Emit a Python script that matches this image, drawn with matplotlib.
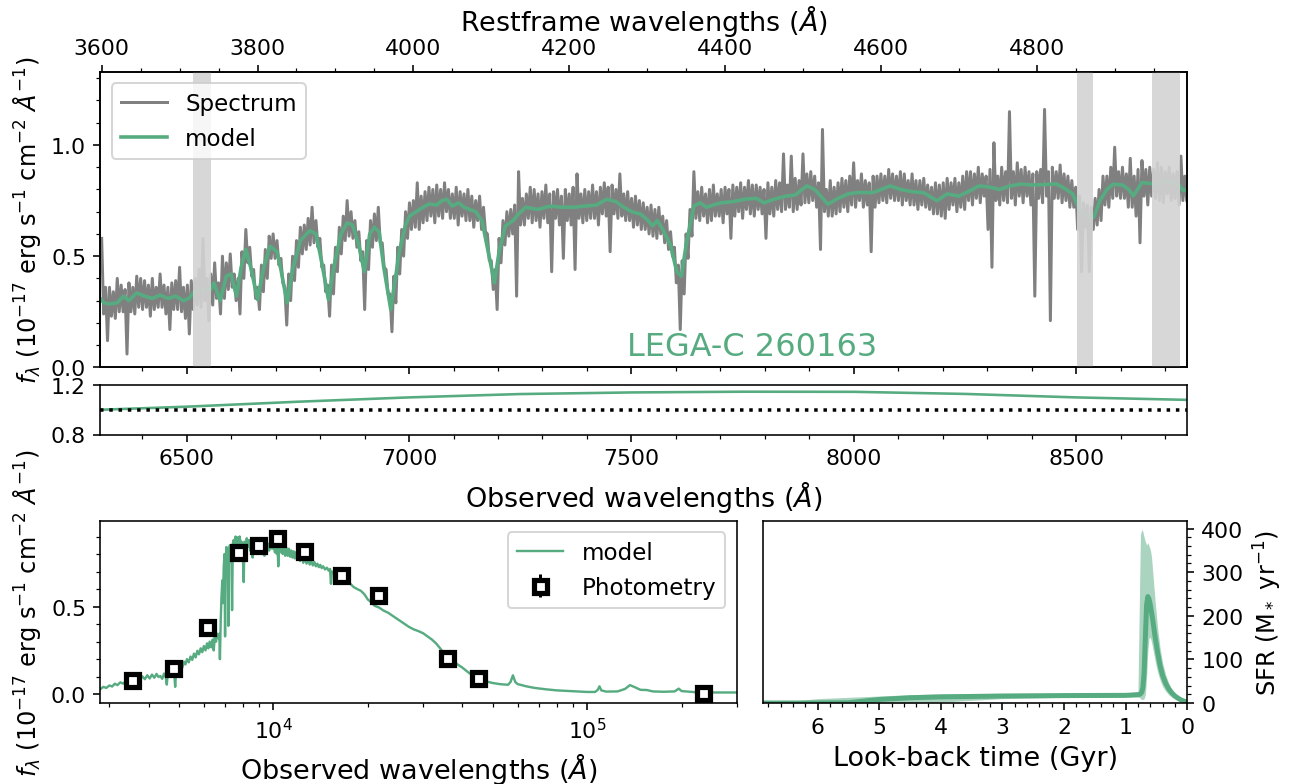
import numpy as np
import matplotlib
matplotlib.use('Agg')
import matplotlib.pyplot as plt
from matplotlib.ticker import AutoMinorLocator, MultipleLocator

z = 0.7524
green = '#57ab80'

# spectrum (restframe), read off the figure as the local highs and lows of the
# noisy band: highs at 3600 + 5k A, lows at 3602.5 + 5k A
spec_hi = [
    0.58, 0.36, 0.36, 0.34, 0.40, 0.37, 0.35, 0.38, 0.36, 0.41,
    0.40, 0.39, 0.37, 0.40, 0.36, 0.42, 0.37, 0.36, 0.38, 0.39,
    0.45, 0.36, 0.37, 0.39, 0.40, 0.44, 0.58, 0.40, 0.42, 0.47,
    0.38, 0.50, 0.47, 0.51, 0.42, 0.40, 0.52, 0.62, 0.54, 0.44,
    0.36, 0.46, 0.53, 0.59, 0.60, 0.57, 0.49, 0.36, 0.42, 0.50,
    0.57, 0.63, 0.64, 0.67, 0.72, 0.66, 0.58, 0.46, 0.37, 0.46,
    0.54, 0.63, 0.68, 0.75, 0.70, 0.66, 0.61, 0.52, 0.57, 0.66,
    0.69, 0.72, 0.56, 0.44, 0.33, 0.41, 0.54, 0.62, 0.70, 0.74,
    0.75, 0.83, 0.77, 0.79, 0.81, 0.80, 0.82, 0.80, 0.83, 0.80,
    0.78, 0.81, 0.79, 0.78, 0.80, 0.77, 0.75, 0.77, 0.72, 0.60,
    0.48, 0.44, 0.58, 0.66, 0.70, 0.71, 0.73, 0.88, 0.76, 0.78,
    0.81, 0.80, 0.78, 0.79, 0.82, 0.78, 0.79, 0.80, 0.77, 0.80,
    0.78, 0.81, 0.87, 0.78, 0.80, 0.79, 0.82, 0.79, 0.81, 0.83,
    0.81, 0.82, 0.80, 0.87, 0.78, 0.79, 0.76, 0.77, 0.75, 0.74,
    0.72, 0.73, 0.71, 0.72, 0.68, 0.66, 0.61, 0.54, 0.46, 0.48,
    0.60, 0.71, 0.88, 0.79, 0.81, 0.78, 0.80, 0.82, 0.78, 0.80,
    0.81, 0.80, 0.82, 0.81, 0.83, 0.81, 0.84, 0.82, 0.82, 0.81,
    0.80, 0.83, 0.81, 0.84, 0.83, 0.96, 0.82, 0.95, 0.85, 0.84,
    0.96, 0.87, 0.88, 0.86, 0.83, 1.07, 0.80, 0.84, 0.81, 0.83,
    0.85, 0.84, 0.86, 0.92, 0.84, 0.87, 0.84, 0.83, 0.86, 0.86,
    0.87, 0.86, 0.89, 0.87, 0.86, 0.88, 0.87, 0.84, 0.87, 0.84,
    0.84, 0.85, 0.82, 0.81, 0.83, 0.82, 0.83, 0.85, 0.83, 0.85,
    0.83, 0.86, 0.88, 0.88, 0.87, 0.90, 0.87, 0.86, 0.89, 1.01,
    0.86, 0.90, 0.88, 1.15, 0.88, 0.92, 0.89, 0.90, 0.88, 0.87,
    0.88, 0.89, 1.16, 0.88, 0.90, 0.88, 0.91, 0.87, 0.86, 0.84,
    0.81, 0.77, 0.74, 0.73, 0.72, 0.76, 0.80, 0.86, 0.86, 0.90,
    0.99, 0.88, 0.90, 0.87, 0.94, 0.86, 0.89, 0.93, 0.89, 0.90,
    0.89, 0.92, 0.90, 0.88, 0.90, 0.87, 0.88, 0.95, 0.86,
]
spec_lo = [
    0.24, 0.12, 0.23, 0.22, 0.25, 0.25, 0.06, 0.25, 0.24, 0.27,
    0.26, 0.27, 0.23, 0.26, 0.27, 0.27, 0.24, 0.17, 0.26, 0.26,
    0.25, 0.22, 0.15, 0.26, 0.28, 0.27, 0.30, 0.21, 0.28, 0.31,
    0.24, 0.31, 0.35, 0.36, 0.30, 0.24, 0.40, 0.47, 0.41, 0.31,
    0.26, 0.34, 0.40, 0.49, 0.49, 0.46, 0.38, 0.19, 0.30, 0.39,
    0.45, 0.51, 0.53, 0.55, 0.56, 0.54, 0.45, 0.34, 0.23, 0.33,
    0.43, 0.51, 0.57, 0.59, 0.58, 0.54, 0.48, 0.26, 0.44, 0.54,
    0.57, 0.56, 0.45, 0.33, 0.16, 0.29, 0.42, 0.50, 0.58, 0.62,
    0.63, 0.62, 0.65, 0.66, 0.68, 0.65, 0.68, 0.67, 0.70, 0.67,
    0.67, 0.64, 0.68, 0.66, 0.66, 0.63, 0.66, 0.62, 0.61, 0.48,
    0.35, 0.26, 0.47, 0.55, 0.59, 0.60, 0.32, 0.64, 0.64, 0.67,
    0.65, 0.66, 0.63, 0.67, 0.65, 0.43, 0.67, 0.64, 0.49, 0.66,
    0.64, 0.44, 0.67, 0.65, 0.66, 0.67, 0.67, 0.64, 0.69, 0.68,
    0.52, 0.69, 0.67, 0.68, 0.66, 0.66, 0.63, 0.64, 0.62, 0.62,
    0.60, 0.59, 0.58, 0.60, 0.56, 0.53, 0.50, 0.38, 0.17, 0.33,
    0.49, 0.59, 0.67, 0.66, 0.68, 0.65, 0.66, 0.68, 0.68, 0.65,
    0.69, 0.58, 0.68, 0.70, 0.67, 0.71, 0.69, 0.68, 0.71, 0.69,
    0.58, 0.69, 0.68, 0.71, 0.70, 0.71, 0.72, 0.70, 0.71, 0.73,
    0.74, 0.74, 0.75, 0.72, 0.53, 0.70, 0.68, 0.68, 0.69, 0.70,
    0.72, 0.70, 0.73, 0.72, 0.75, 0.72, 0.73, 0.52, 0.72, 0.74,
    0.75, 0.74, 0.76, 0.75, 0.75, 0.73, 0.75, 0.73, 0.73, 0.71,
    0.73, 0.72, 0.71, 0.69, 0.69, 0.68, 0.67, 0.71, 0.73, 0.70,
    0.72, 0.71, 0.75, 0.73, 0.76, 0.74, 0.77, 0.62, 0.45, 0.75,
    0.73, 0.75, 0.74, 0.76, 0.73, 0.77, 0.74, 0.77, 0.73, 0.32,
    0.76, 0.74, 0.77, 0.21, 0.76, 0.76, 0.74, 0.75, 0.72, 0.72,
    0.62, 0.43, 0.63, 0.43, 0.62, 0.64, 0.66, 0.73, 0.72, 0.76,
    0.77, 0.76, 0.76, 0.72, 0.72, 0.68, 0.56, 0.77, 0.73, 0.77,
    0.76, 0.75, 0.74, 0.78, 0.75, 0.76, 0.73, 0.75, 0.75,
]

# best-fit model on the spectrum (restframe)
model_rest = [
    3598, 3603, 3610, 3620, 3628, 3635, 3645, 3655, 3665, 3675,
    3685, 3695, 3705, 3712, 3718, 3730, 3740, 3744, 3752, 3760,
    3766, 3773, 3779, 3785, 3792, 3800, 3808, 3816, 3825, 3830,
    3838, 3845, 3855, 3867, 3875, 3882, 3891, 3899, 3907, 3915,
    3922, 3930, 3937, 3944, 3950, 3956, 3962, 3971, 3977, 3982,
    3990, 3995, 4008, 4020, 4030, 4037, 4043, 4050, 4058, 4065,
    4072, 4080, 4088, 4096, 4104, 4110, 4118, 4128, 4135, 4144,
    4160, 4175, 4190, 4205, 4220, 4235, 4248, 4260, 4270, 4280,
    4291, 4300, 4307, 4313, 4320, 4330, 4338, 4344, 4350, 4360,
    4368, 4376, 4385, 4395, 4410, 4425, 4440, 4450, 4462, 4478,
    4490, 4505, 4515, 4532, 4545, 4558, 4570, 4590, 4612, 4625,
    4640, 4655, 4672, 4685, 4700, 4712, 4726, 4740, 4752, 4765,
    4779, 4795, 4810, 4825, 4838, 4846, 4855, 4865, 4873, 4881,
    4890, 4898, 4910, 4918, 4924, 4935, 4950, 4965, 4980, 4988,
    4993,
]
model_flux = [
    0.31, 0.29, 0.285, 0.29, 0.32, 0.30, 0.335, 0.32, 0.31, 0.325,
    0.31, 0.32, 0.30, 0.31, 0.337, 0.35, 0.35, 0.38, 0.30, 0.41,
    0.42, 0.32, 0.45, 0.53, 0.44, 0.305, 0.45, 0.545, 0.52, 0.44,
    0.29, 0.44, 0.57, 0.615, 0.60, 0.48, 0.305, 0.47, 0.60, 0.65,
    0.64, 0.55, 0.43, 0.60, 0.63, 0.61, 0.45, 0.26, 0.40, 0.52,
    0.64, 0.68, 0.71, 0.735, 0.73, 0.75, 0.756, 0.725, 0.74, 0.72,
    0.71, 0.70, 0.66, 0.52, 0.38, 0.52, 0.636, 0.66, 0.69, 0.72,
    0.71, 0.725, 0.72, 0.72, 0.725, 0.73, 0.756, 0.745, 0.72, 0.70,
    0.69, 0.665, 0.636, 0.66, 0.62, 0.55, 0.43, 0.41, 0.55, 0.726,
    0.74, 0.72, 0.73, 0.74, 0.745, 0.756, 0.76, 0.74, 0.755, 0.77,
    0.775, 0.816, 0.80, 0.734, 0.76, 0.78, 0.786, 0.786, 0.816, 0.80,
    0.79, 0.785, 0.749, 0.78, 0.77, 0.79, 0.816, 0.81, 0.80, 0.815,
    0.824, 0.82, 0.822, 0.825, 0.80, 0.78, 0.711, 0.68, 0.674, 0.749,
    0.80, 0.824, 0.82, 0.80, 0.771, 0.831, 0.825, 0.835, 0.83, 0.794,
    0.80,
]

# masked regions (observed frame)
mask_lo = [6515, 8503, 8671]
mask_hi = [6554, 8538, 8734]

# model / spectrum calibration ratio (observed frame)
ratio_obs = [6305, 6500, 6750, 7000, 7250, 7500, 7750, 8000, 8250, 8500, 8750]
ratio_val = [1.0, 1.025, 1.065, 1.10, 1.127, 1.14, 1.146, 1.145, 1.128, 1.10, 1.08]

# full SED model (observed frame)
sed_wave = [
    2800, 2870, 2930, 3000, 3060, 3120, 3180, 3250, 3320, 3400,
    3470, 3540, 3610, 3680, 3750, 3820, 3890, 3960, 4030, 4100,
    4170, 4240, 4300, 4360, 4420, 4480, 4540, 4570, 4600, 4660,
    4720, 4780, 4830, 4860, 4890, 4950, 5000, 5060, 5120, 5180,
    5240, 5300, 5370, 5440, 5510, 5580, 5650, 5720, 5790, 5860,
    5930, 6000, 6070, 6140, 6200, 6260, 6330, 6400, 6450, 6500,
    6560, 6620, 6680, 6720, 6750, 6790, 6830, 6870, 6900, 6940,
    6980, 7010, 7040, 7080, 7110, 7150, 7180, 7210, 7260, 7300,
    7340, 7380, 7420, 7470, 7520, 7570, 7620, 7680, 7740, 7800,
    7860, 7920, 7980, 8040, 8080, 8150, 8220, 8290, 8360, 8430,
    8500, 8580, 8650, 8720, 8800, 8880, 8960, 9040, 9120, 9200,
    9280, 9360, 9440, 9520, 9600, 9700, 9800, 9900, 10000, 10100,
    10200, 10250, 10300, 10360, 10420, 10500, 10600, 10700, 10800, 10900,
    11000, 11100, 11200, 11300, 11400, 11500, 11600, 11700, 11800, 11900,
    12000, 12150, 12300, 12450, 12600, 12750, 12900, 13050, 13200, 13350,
    13500, 13650, 13800, 13950, 14100, 14250, 14400, 14600, 14800, 15000,
    15150, 15250, 15350, 15600, 15900, 16200, 16500, 16800, 17200, 17600,
    18000, 18500, 19000, 19500, 20000, 20500, 21000, 21700, 22400, 23200,
    24000, 25000, 26000, 27000, 28000, 29000, 30000, 31000, 32000, 33000,
    34000, 35000, 36000, 37000, 38500, 40000, 42000, 44000, 46000, 48000,
    50000, 53000, 56000, 57000, 58000, 59000, 60000, 64000, 68000, 74000,
    80000, 90000, 100000, 106000, 108000, 109500, 111000, 115000, 125000, 132000,
    137000, 142000, 148000, 155000, 162000, 175000, 190000, 196000, 200000, 220000,
    250000, 300000,
]
sed_flux = [
    0.028, 0.042, 0.036, 0.050, 0.044, 0.060, 0.052, 0.068, 0.060, 0.080,
    0.066, 0.084, 0.072, 0.094, 0.080, 0.102, 0.086, 0.108, 0.090, 0.112,
    0.094, 0.116, 0.098, 0.104, 0.088, 0.118, 0.096, 0.055, 0.110, 0.124,
    0.108, 0.128, 0.112, 0.042, 0.120, 0.150, 0.138, 0.168, 0.150, 0.186,
    0.170, 0.200, 0.182, 0.215, 0.196, 0.232, 0.210, 0.248, 0.228, 0.262,
    0.240, 0.275, 0.250, 0.290, 0.262, 0.300, 0.268, 0.312, 0.250, 0.330,
    0.300, 0.345, 0.320, 0.345, 0.200, 0.420, 0.560, 0.650, 0.520, 0.720,
    0.800, 0.330, 0.760, 0.840, 0.680, 0.820, 0.390, 0.800, 0.850, 0.760,
    0.820, 0.480, 0.860, 0.880, 0.820, 0.900, 0.850, 0.895, 0.830, 0.900,
    0.860, 0.870, 0.810, 0.640, 0.870, 0.830, 0.890, 0.840, 0.880, 0.820,
    0.870, 0.780, 0.860, 0.830, 0.880, 0.820, 0.870, 0.810, 0.860, 0.800,
    0.850, 0.790, 0.850, 0.800, 0.860, 0.820, 0.870, 0.830, 0.860, 0.810,
    0.860, 0.800, 0.850, 0.730, 0.840, 0.810, 0.850, 0.800, 0.840, 0.790,
    0.835, 0.790, 0.830, 0.785, 0.820, 0.780, 0.815, 0.775, 0.810, 0.770,
    0.800, 0.760, 0.790, 0.750, 0.780, 0.745, 0.770, 0.740, 0.760, 0.735,
    0.755, 0.730, 0.745, 0.725, 0.738, 0.720, 0.730, 0.712, 0.722, 0.705,
    0.715, 0.630, 0.700, 0.690, 0.680, 0.675, 0.665, 0.660, 0.640, 0.630,
    0.612, 0.600, 0.590, 0.570, 0.540, 0.525, 0.505, 0.495, 0.478, 0.465,
    0.447, 0.425, 0.405, 0.385, 0.370, 0.360, 0.348, 0.330, 0.312, 0.290,
    0.262, 0.232, 0.212, 0.195, 0.172, 0.152, 0.122, 0.098, 0.082, 0.072,
    0.064, 0.057, 0.054, 0.070, 0.108, 0.070, 0.058, 0.045, 0.036, 0.028,
    0.022, 0.017, 0.013, 0.013, 0.024, 0.045, 0.022, 0.015, 0.016, 0.030,
    0.052, 0.040, 0.025, 0.024, 0.016, 0.014, 0.016, 0.032, 0.018, 0.012,
    0.010, 0.010,
]

# photometry
phot_wave = [3530, 4770, 6160, 7710, 8910, 10240, 12550, 16470, 21530, 35700, 45010, 234800]
phot_flux = [0.083, 0.152, 0.382, 0.812, 0.854, 0.890, 0.818, 0.680, 0.566, 0.205, 0.091, 0.008]
phot_err = [0.008, 0.008, 0.010, 0.012, 0.012, 0.012, 0.012, 0.012, 0.012, 0.010, 0.010, 0.010]

# star formation history
sfh_t = [6.88, 6.45, 6.3, 6.0, 5.5, 5.0, 4.5, 4.0, 3.0, 2.0,
         1.0, 0.80, 0.77, 0.76, 0.74, 0.72, 0.70, 0.68, 0.66, 0.64,
         0.62, 0.60, 0.58, 0.56, 0.52, 0.48, 0.44, 0.40, 0.35, 0.30,
         0.25, 0.20, 0.15, 0.10, 0.05, 0.0]
sfh_med = [0, 0, 0, 0, 0.5, 8, 12, 14, 16, 17,
           17.5, 19, 20, 21, 24, 35, 70, 150, 225, 244,
           238, 225, 208, 190, 150, 115, 85, 63, 45, 32,
           23, 16, 11, 7, 4, 2]
sfh_hi = [0, 0, 6, 10, 13, 16, 19, 21, 22, 22,
          23, 26, 300, 385, 398, 393, 380, 370, 362, 368,
          360, 352, 335, 300, 230, 170, 125, 92, 65, 45,
          32, 22, 15, 10, 6, 3]
sfh_lo = [0, 0, 0, 0, 0, 0, 0, 2, 10, 13,
          14, 14, 12, 10, 8, 8, 10, 20, 60, 120,
          150, 150, 140, 125, 95, 70, 52, 38, 27, 19,
          13, 9, 6, 4, 2, 1]

# interleave highs and lows into one spectrum
spec_rest = []
spec_flux = []
for k in range(len(spec_hi)):
    spec_rest += [3600 + 5 * k, 3602.5 + 5 * k]
    spec_flux += [spec_hi[k], spec_lo[k]]
spec_obs = np.array(spec_rest) * (1 + z)

plt.rcParams['xtick.labelsize'] = 11
plt.rcParams['ytick.labelsize'] = 11
plt.rcParams['legend.fontsize'] = 11.5

flabel = r'$f_\lambda$ ($10^{-17}$ erg s$^{-1}$ cm$^{-2}$ $\AA^{-1}$)'
xl = 13.5

fig = plt.figure(figsize=(9, 5.451), dpi=144)

# spectrum panel
ax1 = fig.add_axes([0.0772, 0.5308, 0.8389, 0.3768])
ax1.plot(spec_obs, spec_flux, color='grey', lw=1.5, label='Spectrum')
ax1.plot(np.array(model_rest) * (1 + z), model_flux, color=green, lw=1.8, label='model')
for lo, hi in zip(mask_lo, mask_hi):
    ax1.axvspan(lo, hi, color='lightgrey', alpha=0.9, lw=0, zorder=3)
ax1.set_xlim(6305, 8750)
ax1.set_ylim(0, 1.33)
ax1.yaxis.set_major_locator(MultipleLocator(0.5))
ax1.yaxis.set_minor_locator(AutoMinorLocator())
ax1.xaxis.set_minor_locator(AutoMinorLocator())
ax1.tick_params(labelbottom=False)
ax1.set_ylabel(flabel, fontsize=12)
ax1.legend(loc='upper left')
ax1.text(0.6, 0.04, 'LEGA-C 260163', color=green, fontsize=16,
         ha='center', transform=ax1.transAxes)

top = ax1.twiny()
top.set_xlim(6305 / (1 + z), 8750 / (1 + z))
top.xaxis.set_minor_locator(AutoMinorLocator())
top.set_xlabel(r'Restframe wavelengths ($\AA$)', fontsize=xl)

# ratio panel
ax2 = fig.add_axes([0.0772, 0.4452, 0.8389, 0.0631])
ax2.plot(ratio_obs, ratio_val, color=green, lw=1.3)
ax2.axhline(1.0, color='k', ls=':', lw=1.75)
ax2.set_xlim(6305, 8750)
ax2.set_ylim(0.8, 1.2)
ax2.set_yticks([0.8, 1.2])
ax2.xaxis.set_minor_locator(AutoMinorLocator())
ax2.set_xlabel(r'Observed wavelengths ($\AA$)', fontsize=xl, labelpad=5)

# SED panel
ax3 = fig.add_axes([0.0772, 0.1032, 0.4913, 0.2322])
ax3.plot(sed_wave, sed_flux, color=green, lw=1.2, label='model')
ax3.errorbar(phot_wave, phot_flux, yerr=phot_err, fmt='s', mfc='white', mec='k',
             ecolor='k', ms=6.5, mew=2.6, label='Photometry', zorder=4)
ax3.set_xscale('log')
ax3.set_xlim(2800, 3.0e5)
ax3.set_ylim(-0.05, 0.99)
ax3.yaxis.set_major_locator(MultipleLocator(0.5))
ax3.yaxis.set_minor_locator(AutoMinorLocator())
ax3.set_xlabel(r'Observed wavelengths ($\AA$)', fontsize=xl)
ax3.set_ylabel(flabel, fontsize=12)
ax3.legend(loc='upper right')

# SFH panel
ax4 = fig.add_axes([0.589, 0.1032, 0.3271, 0.2322])
ax4.fill_between(sfh_t, sfh_lo, sfh_hi, color=green, alpha=0.5, lw=0)
ax4.plot(sfh_t, sfh_med, color=green, lw=2.5)
ax4.set_xlim(6.88, 0)
ax4.set_ylim(0, 418)
ax4.yaxis.tick_right()
ax4.yaxis.set_label_position('right')
ax4.xaxis.set_major_locator(MultipleLocator(1))
ax4.yaxis.set_major_locator(MultipleLocator(100))
ax4.xaxis.set_minor_locator(AutoMinorLocator())
ax4.yaxis.set_minor_locator(AutoMinorLocator())
ax4.set_xlabel('Look-back time (Gyr)', fontsize=xl)
ax4.set_ylabel(r'SFR (M$_*$ yr$^{-1}$)', fontsize=12)

fig.savefig('out.png', dpi=144)
